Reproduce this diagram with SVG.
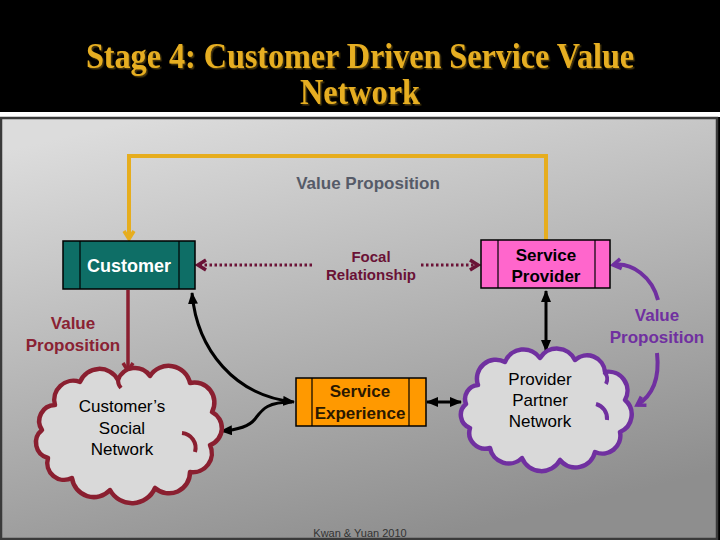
<svg xmlns="http://www.w3.org/2000/svg" width="720" height="540" viewBox="0 0 720 540">
<defs>
<linearGradient id="bg" x1="0.2" y1="0" x2="0.6" y2="1">
<stop offset="0" stop-color="#dcdcdc"/>
<stop offset="1" stop-color="#8e8e8e"/>
</linearGradient>
<filter id="shadow" x="-5%" y="-20%" width="110%" height="150%">
<feDropShadow dx="1.5" dy="1.5" stdDeviation="0.4" flood-color="#4a3808" flood-opacity="1"/>
</filter>
<marker id="chevY" viewBox="0 0 14 14" refX="11" refY="7" markerWidth="14" markerHeight="14" markerUnits="userSpaceOnUse" orient="auto-start-reverse"><path d="M3,2 L11,7 L3,12" fill="none" stroke="#E6AD1E" stroke-width="3.5"/></marker>
<marker id="chevM" viewBox="0 0 14 14" refX="11" refY="7" markerWidth="14" markerHeight="14" markerUnits="userSpaceOnUse" orient="auto-start-reverse"><path d="M3,2 L11,7 L3,12" fill="none" stroke="#8a1f30" stroke-width="3.5"/></marker>
<marker id="chevD" viewBox="0 0 14 14" refX="11" refY="7" markerWidth="14" markerHeight="14" markerUnits="userSpaceOnUse" orient="auto-start-reverse"><path d="M3,2 L11,7 L3,12" fill="none" stroke="#6a1236" stroke-width="3.5"/></marker>
<marker id="chevP" viewBox="0 0 14 14" refX="11" refY="7" markerWidth="14" markerHeight="14" markerUnits="userSpaceOnUse" orient="auto-start-reverse"><path d="M3,2 L11,7 L3,12" fill="none" stroke="#7030a0" stroke-width="3.5"/></marker>
<marker id="arrK" viewBox="0 0 12 10" refX="11" refY="5" markerWidth="12" markerHeight="10" markerUnits="userSpaceOnUse" orient="auto-start-reverse"><path d="M0,0 L12,5 L0,10 Z" fill="#000"/></marker>
</defs>
<style>
.title{font-family:"Liberation Serif","Times New Roman",serif;font-weight:bold;font-size:35px;text-anchor:middle;fill:#E6AE20;filter:url(#shadow)}
.t{font-family:"Liberation Sans",Arial,sans-serif;text-anchor:middle}
.b{font-weight:bold}
.box{stroke:#000;stroke-width:1.5}
.div{stroke:#000;stroke-width:1.2}
.cloud{fill:#d9d9d9;stroke-width:4.5;stroke-linejoin:round}
.curl{fill:none;stroke-width:4}
.k{fill:none;stroke:#000;stroke-width:3}
</style>
<rect x="0" y="0" width="720" height="540" fill="#000"/>
<rect x="0" y="112" width="720" height="5" fill="#fff"/>
<rect x="1" y="118" width="716" height="421" fill="url(#bg)" stroke="#3a3a3a" stroke-width="2.5"/>
<g id="title">
<text class="title" x="360" y="68" textLength="548" lengthAdjust="spacingAndGlyphs">Stage 4: Customer Driven Service Value</text>
<text class="title" x="360" y="104" textLength="120" lengthAdjust="spacingAndGlyphs">Network</text>
</g>
<g id="connectors">
<path d="M546,240 L546,156 L129,156 L129,239" fill="none" stroke="#E6AD1E" stroke-width="4" marker-end="url(#chevY)"/>
<path d="M312,265 L198,265" fill="none" stroke="#6a1236" stroke-width="3" stroke-dasharray="2.5 2.5" marker-end="url(#chevD)"/>
<path d="M421,265 L478,265" fill="none" stroke="#6a1236" stroke-width="3" stroke-dasharray="2.5 2.5" marker-end="url(#chevD)"/>
<path d="M128,290 L128,371" fill="none" stroke="#8a1f30" stroke-width="3.5" marker-end="url(#chevM)"/>
<path d="M546,291 L546,351" class="k" marker-start="url(#arrK)" marker-end="url(#arrK)"/>
<path d="M427,402 L461,402" class="k" marker-start="url(#arrK)" marker-end="url(#arrK)"/>
<path d="M192,293 C197,350 235,396 294,402" class="k" marker-start="url(#arrK)" marker-end="url(#arrK)"/>
<path d="M292,402 C266,402 262,410 255,419 C249,427 238,430 221,431" class="k" marker-end="url(#arrK)"/>
<path d="M613,265 C632,262 652,277 658,300" fill="none" stroke="#7030a0" stroke-width="4" marker-start="url(#chevP)"/>
<path d="M657,353 C660,380 652,396 637,405" fill="none" stroke="#7030a0" stroke-width="4" marker-end="url(#chevP)"/>
</g>
<g id="label-vp-top"><text class="t b" x="368" y="189" font-size="17" fill="#565b68">Value Proposition</text></g>
<g id="label-focal">
<text class="t b" x="371" y="262" font-size="15" fill="#6a1236">Focal</text>
<text class="t b" x="371" y="280" font-size="15" fill="#6a1236">Relationship</text>
</g>
<g id="label-vp-left">
<text class="t b" x="73" y="329" font-size="17" fill="#8a2233">Value</text>
<text class="t b" x="73" y="351" font-size="17" fill="#8a2233">Proposition</text>
</g>
<g id="label-vp-right">
<text class="t b" x="657" y="321" font-size="17" fill="#7030a0">Value</text>
<text class="t b" x="657" y="343" font-size="17" fill="#7030a0">Proposition</text>
</g>
<g id="customer">
<rect class="box" x="63" y="241" width="132" height="48" fill="#0e6e66"/>
<line class="div" x1="80" y1="241" x2="80" y2="289"/>
<line class="div" x1="179" y1="241" x2="179" y2="289"/>
<text class="t b" x="129" y="272" font-size="18" fill="#fff">Customer</text>
</g>
<g id="service-provider">
<rect class="box" x="481" y="240" width="129" height="48" fill="#ff66cc"/>
<line class="div" x1="498" y1="240" x2="498" y2="288"/>
<line class="div" x1="595" y1="240" x2="595" y2="288"/>
<text class="t b" x="546" y="261" font-size="17" fill="#000">Service</text>
<text class="t b" x="546" y="282" font-size="17" fill="#000">Provider</text>
</g>
<g id="service-experience">
<rect class="box" x="296" y="378" width="130" height="48" fill="#ff9900"/>
<line class="div" x1="312" y1="378" x2="312" y2="426"/>
<line class="div" x1="409" y1="378" x2="409" y2="426"/>
<text class="t b" x="360" y="397" font-size="17" fill="#2a1800">Service</text>
<text class="t b" x="360" y="419" font-size="17" fill="#2a1800">Experience</text>
</g>
<g id="customers-social-network">
<path class="cloud" stroke="#8a1f30" d="M55,405 A19,19 0 0 1 80,382 A21,21 0 0 1 118,380 A18,18 0 0 1 150,376 A22,22 0 0 1 190,383 A20,20 0 0 1 212,412 A18,18 0 0 1 210,445 A19,19 0 0 1 190,472 A21,21 0 0 1 155,488 A25,25 0 0 1 110,490 A22,22 0 0 1 72,478 A17,17 0 0 1 48,458 A16,16 0 0 1 42,430 A16,16 0 0 1 55,405 Z"/>
<path class="curl" stroke="#8a1f30" d="M182,433 A15,15 0 0 1 195,452"/>
<path class="curl" stroke="#8a1f30" d="M118,380 A12,12 0 0 0 121,388"/>
<text class="t" x="122" y="412" font-size="17" fill="#000">Customer’s</text>
<text class="t" x="122" y="434" font-size="17" fill="#000">Social</text>
<text class="t" x="122" y="455" font-size="17" fill="#000">Network</text>
</g>
<g id="provider-partner-network">
<path class="cloud" stroke="#7030a0" d="M478,385 A19,19 0 0 1 505,362 A20,20 0 0 1 540,358 A20,20 0 0 1 575,360 A18,18 0 0 1 605,372 A19,19 0 0 1 625,400 A19,19 0 0 1 620,432 A18,18 0 0 1 595,452 A20,20 0 0 1 560,460 A21,21 0 0 1 522,458 A19,19 0 0 1 490,448 A16,16 0 0 1 470,428 A14,14 0 0 1 466,404 A14,14 0 0 1 478,385 Z"/>
<path class="curl" stroke="#7030a0" d="M596,404 A15,15 0 0 1 607,420"/>
<path class="curl" stroke="#7030a0" d="M604,372 A10,10 0 0 1 606,384"/>
<text class="t" x="540" y="385" font-size="17" fill="#000">Provider</text>
<text class="t" x="540" y="406" font-size="17" fill="#000">Partner</text>
<text class="t" x="540" y="427" font-size="17" fill="#000">Network</text>
</g>
<g id="footer"><text class="t" x="360" y="537" font-size="11" fill="#333">Kwan &amp; Yuan 2010</text></g>
</svg>
